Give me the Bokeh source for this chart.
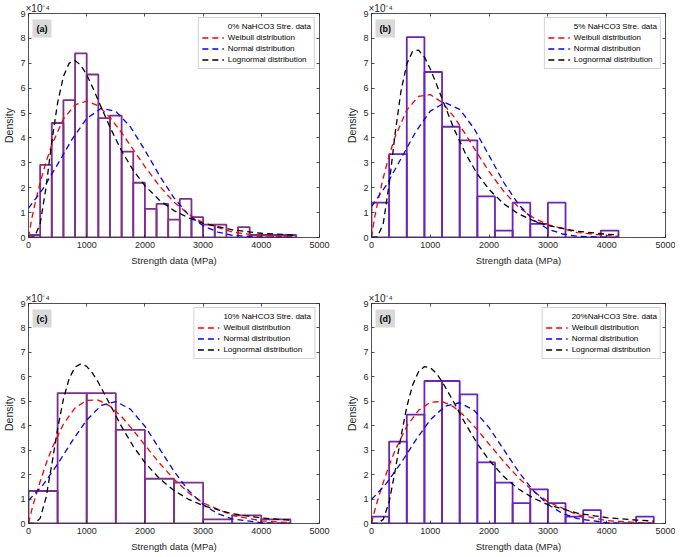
from bokeh.plotting import figure
from bokeh.models import Range1d, FixedTicker, LinearAxis, Legend, LegendItem, Label
from bokeh.layouts import column, row
from bokeh.embed import file_html
from bokeh.resources import INLINE

FONT = "Liberation Sans"

# ---------------- shared texts / ticks ----------------
x_ticks = [0, 1000, 2000, 3000, 4000, 5000]
y_ticks = [0, 1, 2, 3, 4, 5, 6, 7, 8, 9]
x_label = "Strength data (MPa)"
y_label = "Density"
y_scale_text = "×10⁻⁴"
curve_names = ["Weibull distribution", "Normal distribution", "Lognormal distribution"]

# ---------------- panel (a): 0% NaHCO3 (density in 1e-4) ----------------
a_tag = "(a)"
a_name = "0% NaHCO3 Stre. data"
a_edges = [0, 200, 400, 600, 800, 1000, 1200, 1400, 1600, 1800, 2000, 2200, 2400,
           2600, 2800, 3000, 3200, 3400, 3600, 3800, 4000, 4200, 4400, 4600]
a_density = [0.10, 2.92, 4.60, 5.52, 7.40, 6.55, 4.80, 4.90, 3.45, 2.20, 1.15, 1.35,
             0.72, 1.55, 0.82, 0.52, 0.52, 0.00, 0.42, 0.10, 0.10, 0.10, 0.10]
a_weib_x = [0, 50, 100, 200, 300, 400, 600, 800, 1000, 1200, 1400, 1600, 1800, 2000,
            2250, 2500, 2750, 3000, 3500, 4000, 4600]
a_weib_y = [0, 0.69, 1.24, 2.20, 3.02, 3.72, 4.76, 5.33, 5.48, 5.29, 4.83, 4.21, 3.53,
            2.85, 2.07, 1.42, 0.94, 0.59, 0.22, 0.07, 0.02]
a_norm_x = [0, 250, 500, 750, 1000, 1250, 1500, 1750, 2000, 2250, 2500, 2750, 3000,
            3250, 3500, 4000, 4600]
a_norm_y = [1.18, 1.96, 2.94, 3.95, 4.78, 5.19, 5.07, 4.45, 3.51, 2.49, 1.59, 0.91,
            0.47, 0.22, 0.09, 0.01, 0.00]
a_logn_x = [0, 100, 200, 300, 400, 500, 600, 700, 800, 900, 1000, 1100, 1200, 1400,
            1600, 1800, 2000, 2250, 2500, 2750, 3000, 3500, 4000, 4600]
a_logn_y = [0, 0.02, 0.54, 2.00, 3.83, 5.41, 6.47, 7.01, 7.11, 6.92, 6.54, 6.04, 5.50,
            4.43, 3.48, 2.70, 2.08, 1.50, 1.08, 0.79, 0.57, 0.31, 0.17, 0.09]

# ---------------- panel (b): 5% NaHCO3 ----------------
b_tag = "(b)"
b_name = "5% NaHCO3 Stre. data"
b_edges = [0, 300, 600, 900, 1200, 1500, 1800, 2100, 2400, 2700, 3000, 3300, 3600,
           3900, 4200]
b_density = [1.40, 3.35, 8.05, 6.65, 4.45, 3.90, 1.65, 0.28, 1.40, 0.55, 1.40, 0.00,
             0.00, 0.28]
b_weib_x = [0, 50, 100, 200, 300, 400, 600, 800, 1000, 1200, 1400, 1600, 1800, 2000,
            2250, 2500, 2750, 3000, 3500, 4000, 4200]
b_weib_y = [0, 0.76, 1.36, 2.40, 3.29, 4.04, 5.12, 5.67, 5.74, 5.43, 4.86, 4.14, 3.38,
            2.65, 1.85, 1.22, 0.80, 0.52, 0.20, 0.08, 0.05]
b_norm_x = [0, 250, 500, 750, 1000, 1250, 1500, 1750, 2000, 2250, 2500, 2750, 3000,
            3250, 3500, 4000, 4200]
b_norm_y = [1.24, 2.09, 3.16, 4.24, 5.08, 5.42, 5.15, 4.36, 3.29, 2.21, 1.33, 0.71,
            0.34, 0.14, 0.05, 0.01, 0.00]
b_logn_x = [0, 100, 200, 300, 400, 500, 600, 700, 800, 900, 1000, 1100, 1200, 1400,
            1600, 1800, 2000, 2250, 2500, 2750, 3000, 3500, 4000, 4200]
b_logn_y = [0, 0.02, 0.56, 2.14, 4.14, 5.86, 6.97, 7.49, 7.53, 7.25, 6.77, 6.19, 5.58,
            4.38, 3.37, 2.55, 1.93, 1.35, 0.95, 0.68, 0.48, 0.25, 0.13, 0.11]

# ---------------- panel (c): 10% NaHCO3 ----------------
c_tag = "(c)"
c_name = "10% NaHCO3 Stre. data"
c_edges = [0, 500, 1000, 1500, 2000, 2500, 3000, 3500, 4000, 4500]
c_density = [1.33, 5.33, 5.33, 3.83, 1.83, 1.67, 0.17, 0.33, 0.17]
c_weib_x = [0, 50, 100, 200, 300, 400, 600, 800, 1000, 1200, 1400, 1600, 1800, 2000,
            2250, 2500, 2750, 3000, 3500, 4000, 4500]
c_weib_y = [0, 0.50, 0.94, 1.72, 2.43, 3.06, 4.07, 4.73, 5.04, 5.05, 4.80, 4.37, 3.81,
            3.21, 2.47, 1.81, 1.26, 0.84, 0.33, 0.11, 0.03]
c_norm_x = [0, 250, 500, 750, 1000, 1250, 1500, 1750, 2000, 2250, 2500, 2750, 3000,
            3250, 3500, 4000, 4500]
c_norm_y = [0.94, 1.58, 2.43, 3.37, 4.23, 4.83, 4.99, 4.68, 3.98, 3.06, 2.14, 1.35,
            0.78, 0.40, 0.19, 0.03, 0.00]
c_logn_x = [0, 100, 200, 300, 400, 500, 600, 700, 800, 900, 1000, 1100, 1200, 1400,
            1600, 1800, 2000, 2250, 2500, 2750, 3000, 3500, 4000, 4500]
c_logn_y = [0, 0.00, 0.21, 1.05, 2.41, 3.87, 5.09, 5.94, 6.40, 6.53, 6.43, 6.15, 5.77,
            4.87, 3.96, 3.16, 2.49, 1.84, 1.35, 0.99, 0.73, 0.40, 0.23, 0.13]

# ---------------- panel (d): 20% NaHCO3 ----------------
d_tag = "(d)"
d_name = "20%NaHCO3 Stre. data"
d_edges = [0, 300, 600, 900, 1200, 1500, 1800, 2100, 2400, 2700, 3000, 3300, 3600,
           3900, 4200, 4500, 4800]
d_density = [0.28, 3.35, 4.45, 5.83, 5.83, 5.28, 2.50, 1.67, 0.83, 1.40, 0.83, 0.28,
             0.55, 0.00, 0.00, 0.28]
d_weib_x = [0, 50, 100, 200, 300, 400, 600, 800, 1000, 1200, 1400, 1600, 1800, 2000,
            2250, 2500, 2750, 3000, 3500, 4000, 4500, 4800]
d_weib_y = [0, 0.49, 0.91, 1.68, 2.37, 2.98, 3.98, 4.63, 4.96, 4.99, 4.77, 4.36, 3.83,
            3.25, 2.53, 1.87, 1.32, 0.89, 0.36, 0.12, 0.04, 0.02]
d_norm_x = [0, 250, 500, 750, 1000, 1250, 1500, 1750, 2000, 2250, 2500, 2750, 3000,
            3250, 3500, 4000, 4500, 4800]
d_norm_y = [0.98, 1.63, 2.47, 3.40, 4.24, 4.80, 4.94, 4.62, 3.92, 3.02, 2.12, 1.35,
            0.78, 0.41, 0.20, 0.03, 0.00, 0.00]
d_logn_x = [0, 100, 200, 300, 400, 500, 600, 700, 800, 900, 1000, 1100, 1200, 1400,
            1600, 1800, 2000, 2250, 2500, 2750, 3000, 3500, 4000, 4500, 4800]
d_logn_y = [0, 0.00, 0.17, 0.88, 2.13, 3.54, 4.77, 5.67, 6.21, 6.42, 6.38, 6.15, 5.81,
            4.96, 4.07, 3.27, 2.59, 1.92, 1.41, 1.04, 0.77, 0.42, 0.24, 0.14, 0.10]

# ---------------- styles ----------------
PURPLE = "#7E2F8E"
VIOLET = "#6A23BE"
AXIS_COL = "#262626"
DASH = "6 4"


def style_axis(ax, ticks, show_labels):
    ax.ticker = FixedTicker(ticks=ticks)
    ax.major_tick_in = 3
    ax.major_tick_out = 0
    ax.minor_tick_in = 0
    ax.minor_tick_out = 0
    ax.minor_tick_line_color = None
    ax.axis_line_color = AXIS_COL
    ax.major_tick_line_color = AXIS_COL
    ax.axis_line_width = 0.8
    ax.major_tick_line_width = 0.8
    ax.major_label_text_font = FONT
    ax.major_label_text_color = AXIS_COL
    if show_labels:
        ax.major_label_text_font_size = "9px"
    else:
        ax.major_label_text_font_size = "0px"
        ax.major_label_overrides = {t: "" for t in ticks}
        ax.major_label_standoff = 0
        ax.axis_label_standoff = 0


def make_panel(tag, name, edges, dens, color, wx, wy, nx, ny, lx, ly,
               left_col, top_row):
    bl = 22 if left_col else 30
    br = 22 if left_col else 10
    fw = 291 if left_col else 294
    bt = 13
    bb = 53 if top_row else 26
    fh = 224 if top_row else 220
    p = figure(frame_width=fw, frame_height=fh,
               x_range=Range1d(0, 5000), y_range=Range1d(0, 9),
               output_backend="svg", toolbar_location=None,
               min_border_left=bl, min_border_right=br,
               min_border_top=bt, min_border_bottom=bb)
    p.outline_line_color = None
    p.grid.visible = False
    p.background_fill_color = "white"

    # exponent of the y axis, shown as the (left aligned) title
    p.title.text = y_scale_text
    p.title.align = "left"
    p.title.text_font = FONT
    p.title.text_font_size = "10px"
    p.title.text_font_style = "normal"
    p.title.text_color = AXIS_COL
    p.title.standoff = 0
    p.title.offset = -3

    style_axis(p.xaxis[0], x_ticks, True)
    style_axis(p.yaxis[0], y_ticks, True)
    p.xaxis.axis_label = x_label
    p.yaxis.axis_label = y_label
    p.xaxis.axis_label_text_font = FONT
    p.yaxis.axis_label_text_font = FONT
    p.xaxis.axis_label_text_font_style = "normal"
    p.yaxis.axis_label_text_font_style = "normal"
    p.xaxis.axis_label_text_font_size = "9.5px"
    p.yaxis.axis_label_text_font_size = "10.5px"
    p.xaxis.axis_label_text_color = AXIS_COL
    p.yaxis.axis_label_text_color = AXIS_COL
    p.xaxis.major_label_standoff = 4
    p.xaxis.axis_label_standoff = 4
    p.yaxis.major_label_standoff = 3
    p.yaxis.axis_label_standoff = 2

    top_ax = LinearAxis()
    style_axis(top_ax, x_ticks, False)
    p.add_layout(top_ax, "above")
    right_ax = LinearAxis()
    style_axis(right_ax, y_ticks, False)
    p.add_layout(right_ax, "right")

    # histogram bars
    p.quad(left=edges[:-1], right=edges[1:], top=dens, bottom=0,
           fill_color="white", fill_alpha=0.0, line_color=color, line_width=1.8)
    # fitted curves
    r_w = p.line(wx, wy, line_color="#FF0000", line_dash=DASH, line_width=1.3)
    r_n = p.line(nx, ny, line_color="#0000FF", line_dash=DASH, line_width=1.3)
    r_l = p.line(lx, ly, line_color="#000000", line_dash=DASH, line_width=1.3)
    # legend swatch for the histogram (a solid line, as in the original)
    r_h = p.line(x=[], y=[], line_color=color, line_width=2)

    legend = Legend(items=[LegendItem(label=name, renderers=[r_h]),
                           LegendItem(label=curve_names[0], renderers=[r_w]),
                           LegendItem(label=curve_names[1], renderers=[r_n]),
                           LegendItem(label=curve_names[2], renderers=[r_l])],
                    location="top_right")
    legend.label_text_font = FONT
    legend.label_text_font_size = "8px"
    legend.label_text_color = "#000000"
    legend.glyph_width = 22
    legend.glyph_height = 11
    legend.label_height = 11
    legend.label_standoff = 4
    legend.spacing = 0
    legend.padding = 3
    legend.margin = 4
    legend.border_line_color = "#a6a6a6"
    legend.border_line_width = 0.8
    legend.background_fill_color = "white"
    legend.background_fill_alpha = 1.0
    p.add_layout(legend)

    # panel tag in grey box
    p.add_layout(Label(x=0, y=9, text=tag, text_font=FONT, text_font_size="9px",
                       text_font_style="bold", text_color="#000000",
                       text_baseline="top", text_align="left",
                       x_offset=4, y_offset=-6,
                       background_fill_color="#d9d9d9", padding=4))
    return p


pa = make_panel(a_tag, a_name, a_edges, a_density, PURPLE, a_weib_x, a_weib_y,
                a_norm_x, a_norm_y, a_logn_x, a_logn_y, True, True)
pb = make_panel(b_tag, b_name, b_edges, b_density, VIOLET, b_weib_x, b_weib_y,
                b_norm_x, b_norm_y, b_logn_x, b_logn_y, False, True)
pc = make_panel(c_tag, c_name, c_edges, c_density, PURPLE, c_weib_x, c_weib_y,
                c_norm_x, c_norm_y, c_logn_x, c_logn_y, True, False)
pd = make_panel(d_tag, d_name, d_edges, d_density, VIOLET, d_weib_x, d_weib_y,
                d_norm_x, d_norm_y, d_logn_x, d_logn_y, False, False)

p = column(row(pa, pb), row(pc, pd))

open("out.html", "w").write(file_html(p, INLINE))
